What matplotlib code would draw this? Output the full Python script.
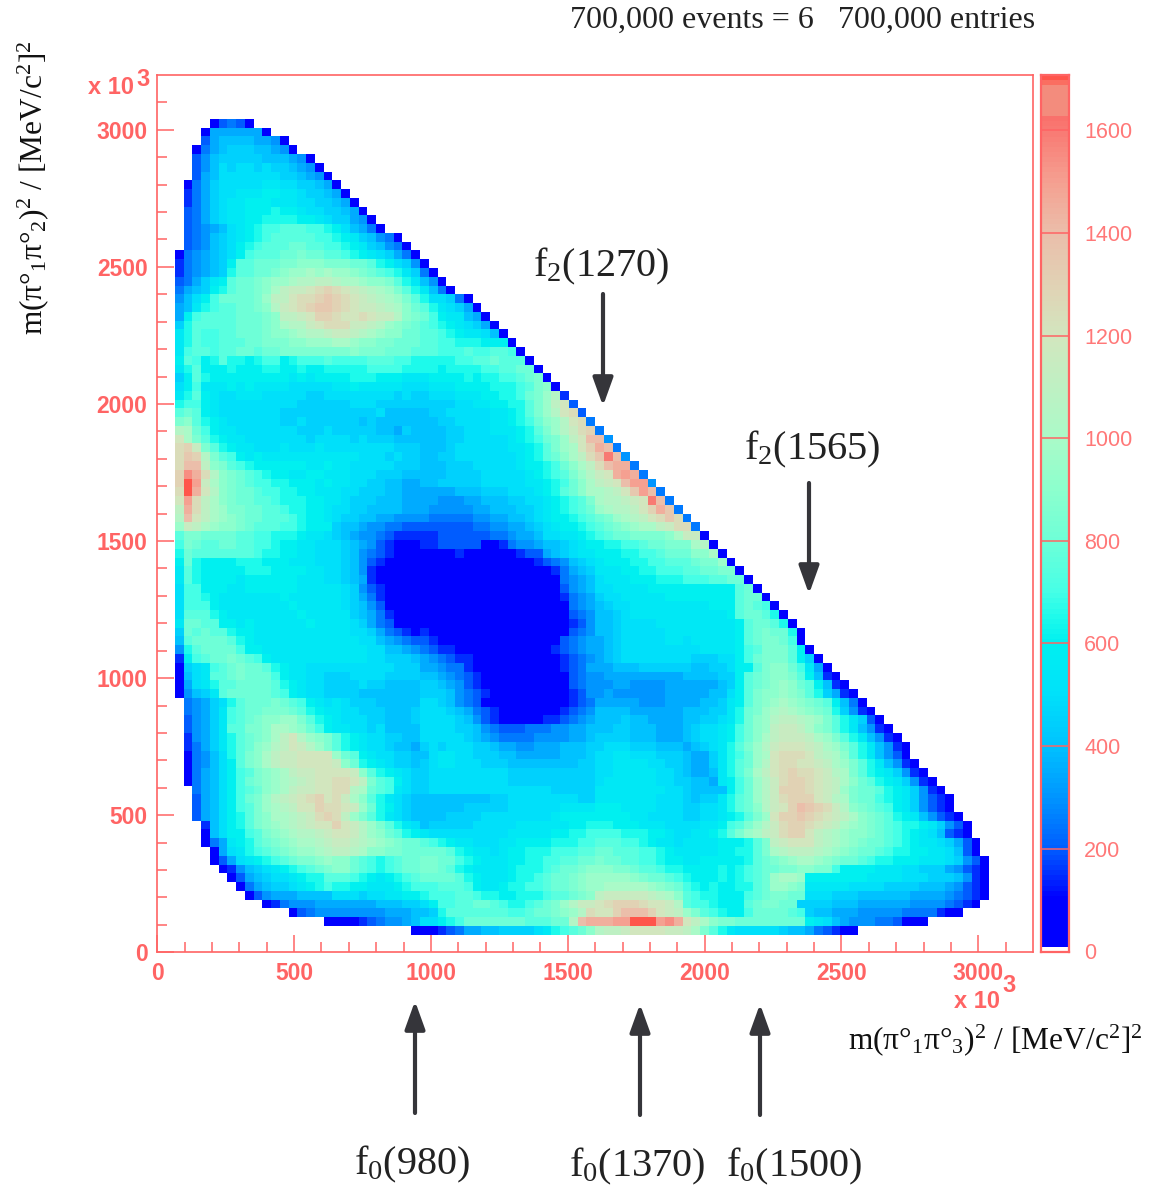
import numpy as np
import matplotlib
matplotlib.use('Agg')
import matplotlib.pyplot as plt
from matplotlib.colors import LinearSegmentedColormap, Normalize

plt.rcParams['font.family'] = ['Liberation Sans', 'DejaVu Sans']
plt.rcParams['mathtext.fontset'] = 'custom'
plt.rcParams['mathtext.rm'] = 'Liberation Serif'
plt.rcParams['mathtext.it'] = 'Liberation Serif:italic'
plt.rcParams['mathtext.default'] = 'rm'

# bin contents, one character per bin (0-9a-z, 50 counts a step), '.' = empty
# rows run from the top of the plot down, first row is y bin 94, last is y bin 2
ROW_TOP = 94
BIN_ROWS = [
    "......2454 2",
    ".....27777 772",
    ".....47888 87762",
    "....257899 988762",
    "....468999 99888762",
    "....468a9a a9a998762",
    "....478aaa aaaa998762",
    "...2579aaa aabbaa9987 2",
    "...3579aab bbccbba998 72",
    "...3579abb cccbbbaa99 872",
    "...4579abb cccdccbaa9 9872",
    "...4579abb ccddddccba 99762",
    "...45678ab cdeefffeed ca8752",
    "...45689ab cdefffffee dcb98652",
    "...45689ac defffggffe edcb98652",
    "..256789ac efffgghggf fedcba9752",
    "..356789cf fggghhiiih hhggfdca96 2",
    "..356789df fgghijjkjk jjihgfedb9 52",
    "..4579bcfg ghijjkllmm lkkjiihfdb 862",
    "..5789cdfg ghikmnnopq ponmlkjhfd b852",
    "..68aceggg ghjmmoppqr qponmlkjhf daa952",
    "..78bdeffg ghilnopqrr qponnmlkig fdba972",
    "..7ceffffg gghimmnoqq pooponnlih gecbb872",
    "..9dfffffg gghikllnop ppnnmljihg fedcba972",
    "..bdfeeffg gghiijkllm nnmlkjiigg ffedcbba82",
    "..bdfeefff gghhhiijjj kkjiihhggg ffeedddccc 2",
    "..beffeffg gfgghhhhhh hhihhhgggf ffeeefeeff e2",
    "..cfecdfdd cdeecdeeef eeeefffeed ddddeeffgf ff2",
    "..bdfcccdc ccddccdccd ddddeeeedd ddcddddeef fgg2",
    "..9cfdcccc cccccbcbcc ccdddcccbb bccccdcdde efgh2",
    "..acebbbcb cbbbbaaaaa bbcbbbbbaa abbbccccdd defhi2",
    "..bdfcbaab bbaaaaa99a aaaaaaa9a9 9aaabbbccd deghjl3",
    "..deecbaaa aaaaaa9999 99aaa99999 9999aabbcc ddfhjmo4",
    "..fgfcbaaa aaaa999999 99999a8888 899aaaaabb cdfhjlop4",
    "..hifdcbaa aaaa99a999 9998988888 8899aaaabb cdegijlop5",
    "..lkgecbba aaaaaa999a 9999988798 88899aaabb bcdfhjlnpq 5",
    "..okhfdcbb aaaaaaa9aa aa9a999888 88899aaaaa bcdeghjmos s6",
    "..pqnhfdcb baaabaaaba aaaaaaa999 8889aaaaaa bbcdfhjkoq ts5",
    "..prqlhfec bcbbbbbbbb bbbaaa9a99 8899aaaaaa abcdfgikmp rws6",
    "..pssmihfe dccccccbbc bbaaaaa999 888999aaaa abccdegikm pstt5",
    "..qvtplihg fedccbbccb bbaaa99988 8889999aaa aabcdefhjl notut5",
    "..qyunkihg feeddcccbc bbaa998877 8899999aaa aabbcdegik mnosuu6",
    "..pytolihg gfeeddccbb baa9998877 7777888999 aaabcdfgik klmorus5",
    "..oupmkihg gffedddccb ba99988877 7766677888 99aabcdefh kllmnows5",
    "..mtpmkjhh ggffeddccb aa99888877 7666667788 899abcdefg jkllmoqtr5",
    "..lsomkjih ggfffedccb a998877666 6555556677 889abccdef ghjklmoprp5",
    "..jnmkjiih gfffeedccc 9887665544 4444445566 7789abccde fghijkkmnpp5",
    "..fhhggggf feedddcbba 9876654333 3344444455 6778aabbcd efgghhhhiknn2",
    "..ehgffggf feedccbbaa a987643222 3344444223 5667889abc cddeefgghhhkl2",
    "..dgffffff feddccbbaa a986543222 2222322222 2344789abb cccddeefgggiik2",
    "..cgdccccd ddcccbbbaa a986432222 2222222222 222345689a bcccddeeff fghhj2",
    "..bfdccccc dddccccbba a986322222 2222222222 2222235789 bbbccddeee ffgghh2",
    "..bfdccccb ccccccbbba a987322222 2222222222 2222225678 abbbcccddd eeeffgg2",
    "..aeecccbb ccccccbbbb ba96432222 2222222222 2222224678 aabbbbcccc ccccccfg2",
    "..aeedcbbb bbbbcbbbbb ba97532222 2222222222 2222223567 9aabbbbbcc ccccccfgg2",
    "..aeeecbbb bbbbbcbbbb ba98642222 2222222222 2222222567 89aabbbbbb bbbcccfgfe2",
    "..afffdcbb bbbbbbcbbb bb98753222 2222222222 2222222456 889abbbbbb bbbbbcfggfd2",
    "..bggffccb cbbbbbbcbb bba9754222 2222222222 2222222346 889aaaabbb bbbbbbcfggfd2",
    "..9gfgffdc cbbbbbbbbb bbaa975432 3222222222 2222222456 889aaaaabb bbbbbbcfghggd2",
    "..8fggggfd cbbbbbbbbb bbbaa87654 4322222222 2222224567 789aaaaabb abbbbbcfghhge2",
    "..6dfgggge ccbbbbbbbb bbbbaa8876 5433222222 2222234567 789aaaaaaa aabbbbcefhhhfc2",
    "..3cefgghg fecbbbbbbb bbbbaa9998 7654332222 2222223456 789aaaaaaa a999aaceghhhfc92",
    "..29abefgh ggfdcbbaaa aaaaaaa999 7765532222 2222223457 7788899999 98899accfhiigeb72",
    "..28abffgh gggecbbaa9 99aaaa9999 8876543222 2222222456 6777777777 888899cfghiihfc832",
    "..27abdffg gggfdcbaa9 999a998888 9987643222 2222222456 6677666677 777789cfghijigfc832",
    "..2689bfgg gggfecbaa9 9998888888 9998654322 2222222346 6766666677 77788acfhiijihfd9732",
    "...5679adf ggghgfecba ba99988888 aa98654222 2222222345 7777766677 77889bcfhi jkjihgfc85 2",
    "...5679bef gghhhgfdcb baa9998889 aaa9875432 2222223456 8888777777 88899bdghj klkjihgd96 32",
    "...4679bef ghiijjhfdc baaa998889 aaaa986432 2222334567 8889887777 8899abdgij lmmlkjhfdb 942",
    "...4679bff hhikkjigec bbaa9a8888 aaaa998654 4455566778 8899888777 89aabcegij mnnmkihfdb 8632",
    "...3679bdf ghikmoljih fdcbaa9988 aaaaa98765 5556666778 9999888777 89aabcegik mnnnmkjhfd b8632",
    "...3579bdf gijlmonljh fdcbaa9887 9a9aaa9987 7667778889 9aaa999888 789abdfhjl nooonmkjhf db8632",
    "...2568adf hikmnnoooo jgfcbaa998 8abbaa9998 8777778889 aabbaaa999 8779bdegjk opppomlkif db8642",
    "...2568acf hikmnnoooo nigdcba998 9abbaaa999 8888888899 aabbbbaa99 8779bdfgjl oppoonmkjh fdb8632",
    "...2578ace fhijkmnnoo oonifdcba9 9aaaaaaaaa 9999999999 aabbbbbaa9 8778bdfhkm opqpponlkh fdcb9632",
    "...2578ace ghijklmnoo ppomhfeca9 9aaaaaaaaa 9999999999 abbbbbbaa9 9887bcegjl npqqponmki gfdcb9632",
    "....578ace fgijkmnnoo pplkgfeba9 9aaaaaaaaa aaaaa99999 bbbbbbbbaa 98888cegjl nqqqponmjh ggfdcb9632",
    "....478ace ghjlmnopqo pnkifdba98 8888888899 aaaaaaaa99 bbbbbbbaaa 9899bdfgjl npqqqonlkh ggedcb96432",
    "....478ace fhjklmooqp ponjgdca98 8888899999 aaaaaabbbb cccbbbbaaa 99aabdfgil noqsrqpnli hgfecb96432",
    "....478acd fhikklmnpq pmjhfdba98 8889999aaa aaaaabcccc ccccbbaaaa 99aabcdfhj oqqrqponmk ihgfdcb86432",
    ".....38acd fhijklmnoo qonljhfdba 899999aaaa abbbbbbccd ddcccbbbaa aabbcefhjl npqqponmkj ihgfeddcb9642",
    ".....28acc efhijkllmn oonljigfdc baaaaaaaaa bbbbbccdde eeedddccba abbcdfhjkm npqqomlkji ihgfedcba8432",
    ".....257bc dfghijkklm nnmlkjihgg fedcbbaaab bccccdddee fffeedcbba bbbbcccdfh mnooomlkji hggfedcbba9742",
    "......27ab defghijjkl mmlkiihhgg gggfdcbbab ccdddeeeff ggfffeedcb bbbbccddfh klmmmlkjih ggfeddccbba842",
    "......247a bcdefghhij iigfedefgg hhggedcbbb ccddeeffgg hggffeedcc bbcccccdfg hijkkjihgg feddcccbbba9642",
    ".......236 89abcdefgh iigfedefgg hhgfdcbbbb cdddefgghi iihhgffedd ccccdcdefg ghhiihhecc ccbbbaa99976432",
    "........24 789aabcddf ffedcbcdef ggggfdcbbb cddefgghij jjjjihggfe dcccdcdefg jkkjcccccc cbbbbaaa9998632",
    ".........2 57899abcde ddccbbbcde eefffecbbc ddeefgghij jkkkkkjihg edcdccddfg jjihbbbbba aaa999988876432",
    ".......... 2467778888 aaa9aabbcc deeeffeddc cdddeffghi mnnnnnmlki feddcccefg hhggaaa999 888888777765432",
    ".......... ..23566677 7777788899 aceeffggfe ddefghjlnn opqqqpoonl feedcccfgh hgg9999888 77777766665432",
    ".......... .....24566 6666667778 89dfffffff eefgghijlp ooqsssqonm jhfedccegg ggfe988777 666665555322",
    ".......... .........2 2223456678 aacdeggggg ggfffgglst ttuuyyyuvt omkihhgggg ggggcba876 66554222",
    ".......... .......... .........2 2234577889 999abdefgi lmmnoooonn mkhfdbaaaa a988754322",
]
COUNT_STEP = 50
BIN_CHARS = '0123456789abcdefghijklmnopqrstuvwxyz'

X_RANGE = 3200
Y_RANGE = 3200
N_BINS = 100
X_TICKS = [0, 500, 1000, 1500, 2000, 2500, 3000]
Y_TICKS = [0, 500, 1000, 1500, 2000, 2500, 3000]
CBAR_TICKS = [0, 200, 400, 600, 800, 1000, 1200, 1400, 1600]
CBAR_MAX = 1708

# palette stops, counts and rgb
PAL_COUNTS = [0, 105, 120, 200, 300, 400, 500, 600, 650, 700, 800, 900, 1000, 1100, 1200, 1300,
              1400, 1500, 1600, 1633, 1634, 1688, 1700, 1708]
PAL_RGB = [(0, 0, 255), (0, 0, 255), (0, 20, 255), (0, 95, 255), (0, 150, 255), (0, 195, 255),
           (0, 225, 250), (0, 240, 240), (30, 250, 235), (70, 255, 230), (110, 255, 215),
           (140, 255, 205), (170, 250, 200), (190, 240, 195), (210, 230, 190), (225, 210, 180),
           (235, 190, 170), (245, 160, 145), (248, 122, 115), (250, 110, 105), (243, 140, 125),
           (243, 140, 125), (255, 85, 75), (255, 85, 75)]

ROOT_RED = '#ff6464'
CBAR_RED = '#ff7878'
DARK = '#35353a'

grid = np.full((N_BINS, N_BINS), np.nan)
for n, row in enumerate(BIN_ROWS):
    for col, ch in enumerate(row.replace(' ', '')):
        if ch != '.':
            grid[ROW_TOP - n, col] = BIN_CHARS.index(ch) * COUNT_STEP

stops = [(c / CBAR_MAX, tuple(v / 255 for v in rgb)) for c, rgb in zip(PAL_COUNTS, PAL_RGB)]
cmap = LinearSegmentedColormap.from_list('root', stops, N=512)
cmap.set_bad((1, 1, 1, 0))
norm = Normalize(0, CBAR_MAX)

W, H = 1152, 1191
fig = plt.figure(figsize=(W / 100, H / 100), dpi=100)


def px_axes(x0, y0, x1, y1):
    return fig.add_axes([x0 / W, 1 - y1 / H, (x1 - x0) / W, (y1 - y0) / H])


ax = px_axes(157.3, 75, 1033, 952.3)
xe = np.linspace(0, X_RANGE, N_BINS + 1)
ye = np.linspace(0, Y_RANGE, N_BINS + 1)
ax.pcolormesh(xe, ye, grid, cmap=cmap, norm=norm, edgecolors='none', rasterized=True)
ax.set_xlim(0, X_RANGE)
ax.set_ylim(0, Y_RANGE)
ax.set_xticks(X_TICKS)
ax.set_yticks(Y_TICKS)
ax.set_xticks(np.arange(0, X_RANGE, 100), minor=True)
ax.set_yticks(np.arange(0, Y_RANGE, 100), minor=True)
ax.tick_params(which='major', direction='in', length=12.5, width=1.1, color=ROOT_RED,
               labelcolor=ROOT_RED, labelsize=16.5, pad=7)
ax.tick_params(which='minor', direction='in', length=7.5, width=1.1, color=ROOT_RED)
for lab in ax.get_xticklabels() + ax.get_yticklabels():
    lab.set_fontweight('bold')
for sp in ax.spines.values():
    sp.set_color(ROOT_RED)
    sp.set_linewidth(1.2)

cax = px_axes(1041, 75, 1069, 952.3)
bar_edges = np.linspace(8, CBAR_MAX, 171)
cax.pcolormesh([0, 1], bar_edges, ((bar_edges[:-1] + bar_edges[1:]) / 2)[:, None],
               cmap=cmap, norm=norm, edgecolors='none', rasterized=True)
cax.set_ylim(-2, CBAR_MAX)
cax.set_xticks([])
cax.yaxis.tick_right()
cax.set_yticks(CBAR_TICKS)
cax.tick_params(axis='y', length=0, labelcolor=CBAR_RED, labelsize=15.5, pad=11)
for t in CBAR_TICKS[1:]:
    cax.axhline(t, color=ROOT_RED, lw=1.1)
for sp in cax.spines.values():
    sp.set_color(ROOT_RED)
    sp.set_linewidth(1.6)

# overlay in picture pixels for the annotations
ov = fig.add_axes([0, 0, 1, 1])
ov.set_xlim(0, W)
ov.set_ylim(H, 0)
ov.axis('off')
ov.patch.set_alpha(0)

SERIF = ['Liberation Serif', 'DejaVu Serif']
ov.text(1035, 20, '700,000 events = 6   700,000 entries', ha='right', va='center',
        family=SERIF, fontsize=23, color='#222222')
ov.text(33, 188, r'm($\pi$°$_{1}$$\pi$°$_{2}$)$^{2}$ / [MeV/c$^{2}$]$^{2}$', rotation=90,
        ha='center', va='center', family=SERIF, fontsize=22.6, color='#111111')
ov.text(1143, 1040, r'm($\pi$°$_{1}$$\pi$°$_{3}$)$^{2}$ / [MeV/c$^{2}$]$^{2}$', ha='right',
        va='center', family=SERIF, fontsize=22.6, color='#111111')

ov.text(88, 87, 'x 10', ha='left', va='center', color=ROOT_RED, fontsize=17, fontweight='bold')
ov.text(136, 80, '3', ha='left', va='center', color=ROOT_RED, fontsize=17, fontweight='bold')
ov.text(954, 1002, 'x 10', ha='left', va='center', color=ROOT_RED, fontsize=17, fontweight='bold')
ov.text(1002, 985, '3', ha='left', va='center', color=ROOT_RED, fontsize=17, fontweight='bold')

PARTICLES = [r'f$_{2}$(1270)', r'f$_{2}$(1565)', r'f$_{0}$(980)', r'f$_{0}$(1370)', r'f$_{0}$(1500)']
LABEL_X = [601, 812, 412, 637, 794]
LABEL_Y = [266, 449, 1164, 1166, 1166]
ARROW_X = [603, 809, 415, 640, 760]
ARROW_FROM = [294, 483, 1113, 1115, 1115]
ARROW_TO = [406, 594, 1001, 1004, 1004]

for name, lx, ly, ax_x, y0, y1 in zip(PARTICLES, LABEL_X, LABEL_Y, ARROW_X, ARROW_FROM, ARROW_TO):
    ov.text(lx, ly, name, ha='center', va='center', family=SERIF, fontsize=29, color='#222222')
    ov.annotate('', xy=(ax_x, y1), xytext=(ax_x, y0),
                arrowprops=dict(arrowstyle='-|>,head_length=1.0,head_width=0.36', lw=3.0, color=DARK,
                                mutation_scale=17, shrinkA=0, shrinkB=0))

fig.savefig('out.png', dpi=100)
